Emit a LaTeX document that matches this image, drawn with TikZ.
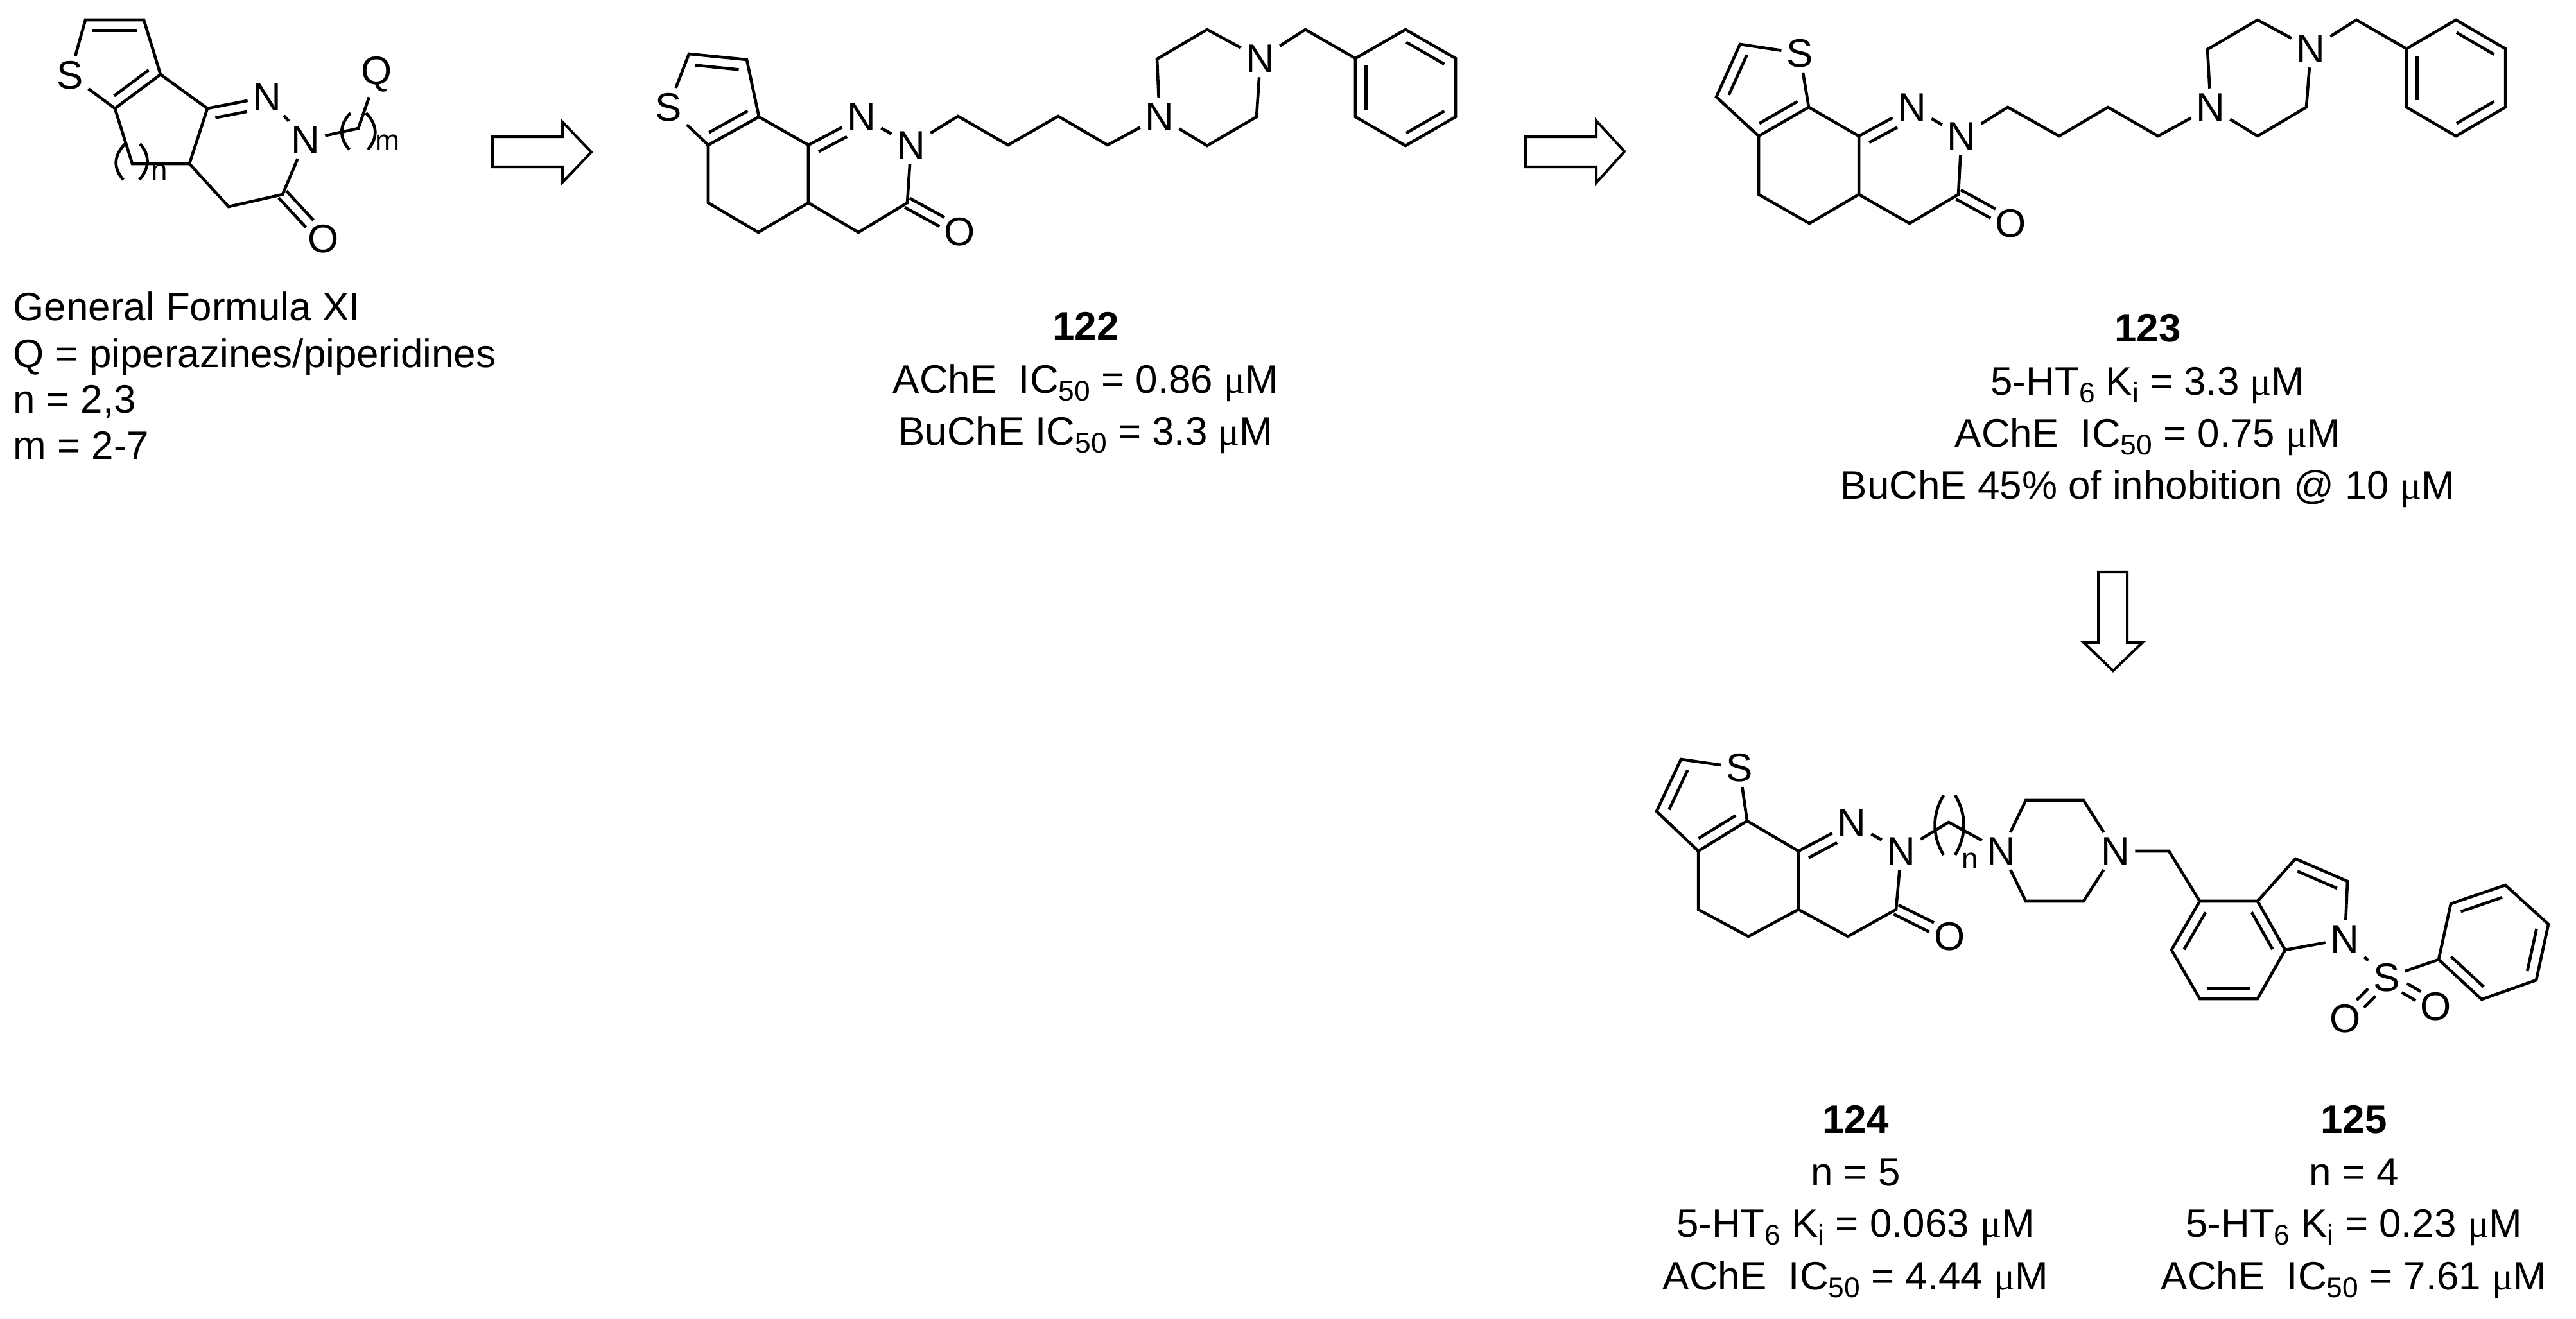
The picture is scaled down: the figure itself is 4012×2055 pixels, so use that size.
\documentclass[tikz,border=0pt]{standalone}
\usepackage{fontspec}
\setmainfont{Liberation Sans}
\newfontfamily\greekfont{Liberation Serif}
\usetikzlibrary{calc}

\tikzset{
  bond/.style={line width=1.3pt,line join=miter},
  hollow/.style={line width=1.15pt,line join=miter},
  atom/.style={font=\fontsize{17.6}{20}\selectfont,inner sep=.08cm,outer sep=0},
  idx/.style={font=\fontsize{13}{15}\selectfont,inner sep=0},
  txt/.style={font=\fontsize{17.6}{20}\selectfont,inner sep=0,anchor=base},
  txtl/.style={txt,anchor=base west}
}
\newcommand{\inbondx}[4]{\draw[bond] ($(#1)!#3!(#2)!4.7pt!90:(#2)$) -- ($(#2)!#4!(#1)!4.7pt!-90:(#1)$);}
\newcommand{\inbond}[2]{\inbondx{#1}{#2}{.12}{.12}}
\newcommand{\twobond}[4]{
  \draw[bond] ($(#1)!#3!(#2)!2.3pt!90:(#2)$) -- ($(#1)!#4!(#2)!2.3pt!90:(#2)$);
  \draw[bond] ($(#1)!#3!(#2)!2.3pt!-90:(#2)$) -- ($(#1)!#4!(#2)!2.3pt!-90:(#2)$);
}
\newcommand{\lowered}[1]{\raisebox{-.2em}{\fontsize{12.6}{14}\selectfont #1}}
\newcommand{\micro}{{\greekfont\char"03BC}M}

\begin{document}
\begin{tikzpicture}[x=.01cm,y=-.01cm]
  \useasboundingbox (0,0) rectangle (4012,2055);

  % general formula
  \coordinate (fa) at (133,31);
  \coordinate (fb) at (224,31);
  \coordinate (fc) at (250,116);
  \coordinate (fd) at (179,169);
  \coordinate (fe) at (206,255);
  \coordinate (ff) at (295,255);
  \coordinate (fg) at (323,169);
  \coordinate (fh) at (356,322);
  \coordinate (fi) at (440,303);
  \coordinate (fm) at (558,200);
  \node[atom] (fS) at (109,117) {S};
  \node[atom] (fN) at (416,151) {N};
  \node[atom] (fNb) at (476,218) {N};
  \node[atom] (fO) at (504,372) {O};
  \node[atom] (fQ) at (587,116) {Q};
  \draw[bond] (fS) -- (fa) -- (fb) -- (fc) -- (fd) -- (fS);
  \draw[bond] (fc) -- (fg) -- (fN) -- (fNb) -- (fi) -- (fh) -- (ff) -- (fg);
  \draw[bond] (fd) -- (fe) -- (ff);
  \draw[bond] (fNb) -- (fm) -- (fQ);
  \inbond{fb}{fa}
  \inbond{fd}{fc}
  \inbondx{fN}{fg}{.37}{.10}
  \twobond{fi}{fO}{0}{.66}
  \coordinate (fnl) at (195,224);
  \coordinate (fnm) at (192,280);
  \coordinate (fnr) at (218,224);
  \coordinate (fns) at (217,280);
  \draw[bond] (fnl) .. controls +(-18,18) and +(-16,-18) .. (fnm);
  \draw[bond] (fnr) .. controls +(16,18) and +(16,-18) .. (fns);
  \coordinate (fml) at (546,176);
  \coordinate (fmm) at (544,233);
  \coordinate (fmr) at (570,176);
  \coordinate (fms) at (573,233);
  \draw[bond] (fml) .. controls +(-18,18) and +(-16,-18) .. (fmm);
  \draw[bond] (fmr) .. controls +(18,18) and +(16,-18) .. (fms);
  \node[idx] (fidn) at (248,268) {n};
  \node[idx] (fidm) at (604,222) {m};
  \node[txtl] (ft1) at (20,500) {General Formula XI};
  \node[txtl] (ft2) at (20,572) {Q = piperazines/piperidines};
  \node[txtl] (ft3) at (20,643) {n = 2,3};
  \node[txtl] (ft4) at (20,715) {m = 2-7};

  \draw[hollow] (767,213) -- (876,213) -- (876,190) -- (921,237) -- (876,284) -- (876,260) -- (767,260) -- cycle;

  % compound 122
  \coordinate (ba) at (1073,84);
  \coordinate (bb) at (1163,93);
  \coordinate (bc) at (1182,182);
  \coordinate (bd) at (1103,226);
  \coordinate (be) at (1103,316);
  \coordinate (bf) at (1181,362);
  \coordinate (bg) at (1259,226);
  \coordinate (bh) at (1259,316);
  \coordinate (bi) at (1337,362);
  \coordinate (bj) at (1413,316);
  \coordinate (bk) at (1492,181);
  \coordinate (bl) at (1570,226);
  \coordinate (bm) at (1648,181);
  \coordinate (bn) at (1725,226);
  \coordinate (bp) at (1802,92);
  \coordinate (bq) at (1880,46);
  \coordinate (br) at (1957,182);
  \coordinate (bs) at (1880,227);
  \coordinate (bt) at (2033,46);
  \coordinate (bu) at (2111,91);
  \coordinate (bv) at (2189,46);
  \coordinate (bw) at (2267,91);
  \coordinate (bx) at (2267,182);
  \coordinate (by) at (2189,227);
  \coordinate (bz) at (2111,182);
  \node[atom] (bS) at (1041,167) {S};
  \node[atom] (bN) at (1342,182) {N};
  \node[atom] (bNb) at (1419,226) {N};
  \node[atom] (bO) at (1495,361) {O};
  \node[atom] (bNc) at (1806,182) {N};
  \node[atom] (bNd) at (1963,91) {N};
  \draw[bond] (bS) -- (ba) -- (bb) -- (bc) -- (bd) -- (bS);
  \draw[bond] (bd) -- (be) -- (bf) -- (bh) -- (bg) -- (bc);
  \draw[bond] (bg) -- (bN) -- (bNb) -- (bj) -- (bi) -- (bh);
  \draw[bond] (bNb) -- (bk) -- (bl) -- (bm) -- (bn) -- (bNc);
  \draw[bond] (bNc) -- (bp) -- (bq) -- (bNd) -- (br) -- (bs) -- (bNc);
  \draw[bond] (bNd) -- (bt) -- (bu);
  \draw[bond] (bu) -- (bv) -- (bw) -- (bx) -- (by) -- (bz) -- cycle;
  \inbond{bb}{ba}
  \inbond{bd}{bc}
  \inbondx{bN}{bg}{.37}{.10}
  \twobond{bj}{bO}{0}{.66}
  \inbond{bu}{bz}
  \inbond{by}{bx}
  \inbond{bw}{bv}
  \node[txt] (bt1) at (1691,530) {\bfseries 122};
  \node[txt] (bt2) at (1691,612) {AChE~~IC\lowered{50} = 0.86 \micro};
  \node[txt] (bt3) at (1691,693) {BuChE IC\lowered{50} = 3.3 \micro};

  \draw[hollow] (2376,213) -- (2486,213) -- (2486,188) -- (2530,236) -- (2486,285) -- (2486,260) -- (2376,260) -- cycle;

  % compound 123
  \coordinate (ca) at (2710,69);
  \coordinate (cb) at (2673,151);
  \coordinate (cc) at (2739,212);
  \coordinate (cd) at (2817,167);
  \coordinate (ce) at (2739,303);
  \coordinate (cf) at (2818,348);
  \coordinate (cg) at (2895,212);
  \coordinate (ch) at (2895,303);
  \coordinate (ci) at (2974,348);
  \coordinate (cj) at (3050,303);
  \coordinate (ck) at (3127,167);
  \coordinate (cl) at (3207,212);
  \coordinate (cm) at (3283,167);
  \coordinate (cn) at (3361,212);
  \coordinate (cp) at (3438,77);
  \coordinate (cq) at (3516,31);
  \coordinate (cr) at (3592,167);
  \coordinate (cs) at (3516,212);
  \coordinate (ct) at (3670,31);
  \coordinate (cu) at (3748,76);
  \coordinate (cv) at (3825,31);
  \coordinate (cw) at (3902,76);
  \coordinate (cx) at (3902,167);
  \coordinate (cy) at (3825,212);
  \coordinate (cz) at (3748,167);
  \node[atom] (cS) at (2803,83) {S};
  \node[atom] (cN) at (2978,167) {N};
  \node[atom] (cNb) at (3055,212) {N};
  \node[atom] (cO) at (3132,348) {O};
  \node[atom] (cNc) at (3443,167) {N};
  \node[atom] (cNd) at (3599,76) {N};
  \draw[bond] (cS) -- (ca) -- (cb) -- (cc) -- (cd) -- (cS);
  \draw[bond] (cc) -- (ce) -- (cf) -- (ch) -- (cg) -- (cd);
  \draw[bond] (cg) -- (cN) -- (cNb) -- (cj) -- (ci) -- (ch);
  \draw[bond] (cNb) -- (ck) -- (cl) -- (cm) -- (cn) -- (cNc);
  \draw[bond] (cNc) -- (cp) -- (cq) -- (cNd) -- (cr) -- (cs) -- (cNc);
  \draw[bond] (cNd) -- (ct) -- (cu);
  \draw[bond] (cu) -- (cv) -- (cw) -- (cx) -- (cy) -- (cz) -- cycle;
  \inbond{ca}{cb}
  \inbond{cc}{cd}
  \inbondx{cN}{cg}{.37}{.10}
  \twobond{cj}{cO}{0}{.66}
  \inbond{cu}{cz}
  \inbond{cy}{cx}
  \inbond{cw}{cv}
  \node[txt] (ct1) at (3345,532) {\bfseries 123};
  \node[txt] (ct2) at (3345,615) {5-HT\lowered{6} K\lowered{i} = 3.3 \micro};
  \node[txt] (ct3) at (3345,696) {AChE~~IC\lowered{50} = 0.75 \micro};
  \node[txt] (ct4) at (3345,777) {BuChE 45\% of inhobition @ 10 \micro};

  \draw[hollow] (3268,891) -- (3313,891) -- (3313,1001) -- (3337,1001) -- (3291,1045) -- (3245,1001) -- (3268,1001) -- cycle;

  % compounds 124 and 125
  \coordinate (da) at (2618,1183);
  \coordinate (db) at (2580,1264);
  \coordinate (dc) at (2645,1326);
  \coordinate (dd) at (2721,1279);
  \coordinate (de) at (2645,1417);
  \coordinate (df) at (2723,1459);
  \coordinate (dg) at (2801,1326);
  \coordinate (dh) at (2801,1417);
  \coordinate (di) at (2878,1459);
  \coordinate (dj) at (2953,1417);
  \coordinate (dk) at (3035,1281);
  \coordinate (dl) at (3155,1247);
  \coordinate (dm) at (3245,1247);
  \coordinate (dn) at (3245,1404);
  \coordinate (dp) at (3155,1404);
  \coordinate (dq) at (3378,1326);
  \coordinate (ia) at (3426,1404);
  \coordinate (ib) at (3516,1404);
  \coordinate (ic) at (3575,1338);
  \coordinate (id) at (3656,1373);
  \coordinate (ie) at (3559,1480);
  \coordinate (if) at (3516,1556);
  \coordinate (ig) at (3426,1556);
  \coordinate (ih) at (3382,1480);
  \coordinate (pa) at (3798,1495);
  \coordinate (pb) at (3817,1408);
  \coordinate (pc) at (3902,1379);
  \coordinate (pd) at (3969,1440);
  \coordinate (pe) at (3950,1527);
  \coordinate (pf) at (3865,1557);
  \node[atom] (dS) at (2709,1196) {S};
  \node[atom] (dN) at (2884,1282) {N};
  \node[atom] (dNb) at (2961,1326) {N};
  \node[atom] (dO) at (3037,1459) {O};
  \node[atom] (dNc) at (3117,1326) {N};
  \node[atom] (dNd) at (3295,1326) {N};
  \node[atom] (iN) at (3652,1463) {N};
  \node[atom] (iS) at (3717,1523) {S};
  \node[atom] (iO) at (3653,1587) {O};
  \node[atom] (iOb) at (3794,1568) {O};
  \draw[bond] (dS) -- (da) -- (db) -- (dc) -- (dd) -- (dS);
  \draw[bond] (dc) -- (de) -- (df) -- (dh) -- (dg) -- (dd);
  \draw[bond] (dg) -- (dN) -- (dNb) -- (dj) -- (di) -- (dh);
  \draw[bond] (dNb) -- (dk) -- (dNc);
  \draw[bond] (dNc) -- (dl) -- (dm) -- (dNd) -- (dn) -- (dp) -- (dNc);
  \draw[bond] (dNd) -- (dq) -- (ia) -- (ib) -- (ic) -- (id) -- (iN) -- (ie) -- (if) -- (ig) -- (ih) -- (ia);
  \draw[bond] (ib) -- (ie);
  \draw[bond] (iN) -- (iS) -- (pa);
  \draw[bond] (pa) -- (pb) -- (pc) -- (pd) -- (pe) -- (pf) -- cycle;
  \inbond{da}{db}
  \inbond{dc}{dd}
  \inbondx{dN}{dg}{.37}{.10}
  \twobond{dj}{dO}{0}{.66}
  \inbond{id}{ic}
  \inbond{ie}{ib}
  \inbond{ia}{ih}
  \inbond{ig}{if}
  \inbond{pc}{pb}
  \inbond{pe}{pd}
  \inbond{pa}{pf}
  \twobond{iS}{iO}{.36}{.64}
  \twobond{iS}{iOb}{.36}{.64}
  \coordinate (dnl) at (3027,1239);
  \coordinate (dnm) at (3027,1332);
  \coordinate (dnr) at (3045,1239);
  \coordinate (dns) at (3045,1332);
  \draw[bond] (dnl) .. controls +(-18,30) and +(-18,-30) .. (dnm);
  \draw[bond] (dnr) .. controls +(18,30) and +(18,-30) .. (dns);
  \node[idx] (didn) at (3068,1341) {n};
  \node[txt] (dt1) at (2890,1765) {\bfseries 124};
  \node[txt] (dt2) at (2890,1847) {n = 5};
  \node[txt] (dt3) at (2890,1927) {5-HT\lowered{6} K\lowered{i} = 0.063 \micro};
  \node[txt] (dt4) at (2890,2009) {AChE~~IC\lowered{50} = 4.44 \micro};
  \node[txt] (et1) at (3666,1765) {\bfseries 125};
  \node[txt] (et2) at (3666,1847) {n = 4};
  \node[txt] (et3) at (3666,1927) {5-HT\lowered{6} K\lowered{i} = 0.23 \micro};
  \node[txt] (et4) at (3666,2009) {AChE~~IC\lowered{50} = 7.61 \micro};
\end{tikzpicture}
\end{document}
